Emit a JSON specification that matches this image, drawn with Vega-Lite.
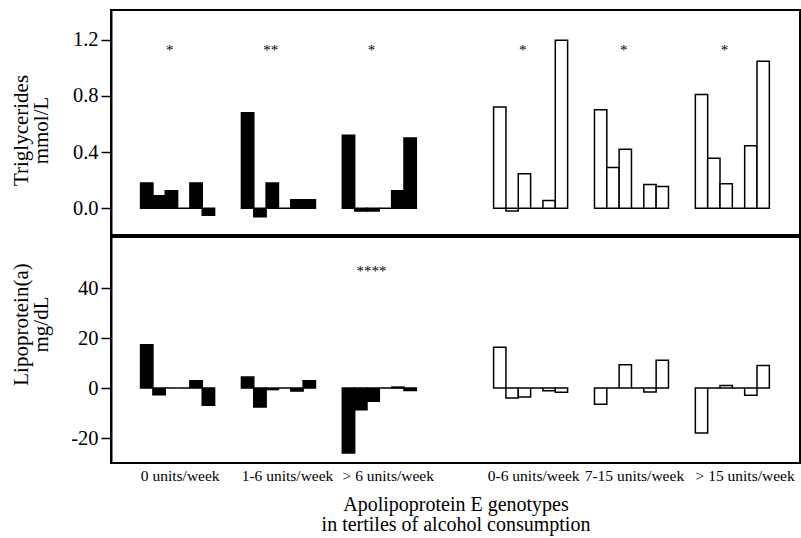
{
  "$schema": "https://vega.github.io/schema/vega-lite/v6.json",
  "background": "white",
  "padding": {"left": 8, "top": 9, "right": 1, "bottom": 1},
  "spacing": 0,
  "config": {
    "font": "Liberation Serif, Times New Roman, serif",
    "view": {"stroke": "black", "strokeWidth": 2},
    "axis": {
      "grid": false,
      "domainColor": "black",
      "domainWidth": 2,
      "tickColor": "black",
      "tickWidth": 1.5,
      "tickSize": 10,
      "labelFont": "Liberation Serif, Times New Roman, serif",
      "labelColor": "black",
      "titleFont": "Liberation Serif, Times New Roman, serif",
      "titleColor": "black",
      "titleFontWeight": "normal"
    },
    "text": {"font": "Liberation Serif, Times New Roman, serif"}
  },
  "datasets": {
    "trig": [
      {"alcohol": "0 units/week", "sex": "women", "genotype": "E2/2", "value": 0.18},
      {"alcohol": "0 units/week", "sex": "women", "genotype": "E2/3", "value": 0.09},
      {"alcohol": "0 units/week", "sex": "women", "genotype": "E2/4", "value": 0.125},
      {"alcohol": "0 units/week", "sex": "women", "genotype": "E3/3", "value": 0},
      {"alcohol": "0 units/week", "sex": "women", "genotype": "E3/4", "value": 0.18},
      {"alcohol": "0 units/week", "sex": "women", "genotype": "E4/4", "value": -0.05},
      {"alcohol": "1-6 units/week", "sex": "women", "genotype": "E2/2", "value": 0.68},
      {"alcohol": "1-6 units/week", "sex": "women", "genotype": "E2/3", "value": -0.06},
      {"alcohol": "1-6 units/week", "sex": "women", "genotype": "E2/4", "value": 0.18},
      {"alcohol": "1-6 units/week", "sex": "women", "genotype": "E3/3", "value": 0},
      {"alcohol": "1-6 units/week", "sex": "women", "genotype": "E3/4", "value": 0.06},
      {"alcohol": "1-6 units/week", "sex": "women", "genotype": "E4/4", "value": 0.06},
      {"alcohol": "> 6 units/week", "sex": "women", "genotype": "E2/2", "value": 0.52},
      {"alcohol": "> 6 units/week", "sex": "women", "genotype": "E2/3", "value": -0.02},
      {"alcohol": "> 6 units/week", "sex": "women", "genotype": "E2/4", "value": -0.02},
      {"alcohol": "> 6 units/week", "sex": "women", "genotype": "E3/3", "value": 0},
      {"alcohol": "> 6 units/week", "sex": "women", "genotype": "E3/4", "value": 0.125},
      {"alcohol": "> 6 units/week", "sex": "women", "genotype": "E4/4", "value": 0.5},
      {"alcohol": "0-6 units/week", "sex": "men", "genotype": "E2/2", "value": 0.72},
      {"alcohol": "0-6 units/week", "sex": "men", "genotype": "E2/3", "value": -0.02},
      {"alcohol": "0-6 units/week", "sex": "men", "genotype": "E2/4", "value": 0.245},
      {"alcohol": "0-6 units/week", "sex": "men", "genotype": "E3/3", "value": 0},
      {"alcohol": "0-6 units/week", "sex": "men", "genotype": "E3/4", "value": 0.055},
      {"alcohol": "0-6 units/week", "sex": "men", "genotype": "E4/4", "value": 1.195},
      {"alcohol": "7-15 units/week", "sex": "men", "genotype": "E2/2", "value": 0.7},
      {"alcohol": "7-15 units/week", "sex": "men", "genotype": "E2/3", "value": 0.29},
      {"alcohol": "7-15 units/week", "sex": "men", "genotype": "E2/4", "value": 0.42},
      {"alcohol": "7-15 units/week", "sex": "men", "genotype": "E3/3", "value": 0},
      {"alcohol": "7-15 units/week", "sex": "men", "genotype": "E3/4", "value": 0.17},
      {"alcohol": "7-15 units/week", "sex": "men", "genotype": "E4/4", "value": 0.155},
      {"alcohol": "> 15 units/week", "sex": "men", "genotype": "E2/2", "value": 0.81},
      {"alcohol": "> 15 units/week", "sex": "men", "genotype": "E2/3", "value": 0.355},
      {"alcohol": "> 15 units/week", "sex": "men", "genotype": "E2/4", "value": 0.175},
      {"alcohol": "> 15 units/week", "sex": "men", "genotype": "E3/3", "value": 0},
      {"alcohol": "> 15 units/week", "sex": "men", "genotype": "E3/4", "value": 0.445},
      {"alcohol": "> 15 units/week", "sex": "men", "genotype": "E4/4", "value": 1.045}
    ],
    "lpa": [
      {"alcohol": "0 units/week", "sex": "women", "genotype": "E2/2", "value": 17.4},
      {"alcohol": "0 units/week", "sex": "women", "genotype": "E2/3", "value": -2.7},
      {"alcohol": "0 units/week", "sex": "women", "genotype": "E2/4", "value": 0},
      {"alcohol": "0 units/week", "sex": "women", "genotype": "E3/3", "value": 0},
      {"alcohol": "0 units/week", "sex": "women", "genotype": "E3/4", "value": 2.9},
      {"alcohol": "0 units/week", "sex": "women", "genotype": "E4/4", "value": -6.9},
      {"alcohol": "1-6 units/week", "sex": "women", "genotype": "E2/2", "value": 4.4},
      {"alcohol": "1-6 units/week", "sex": "women", "genotype": "E2/3", "value": -7.6},
      {"alcohol": "1-6 units/week", "sex": "women", "genotype": "E2/4", "value": -0.6},
      {"alcohol": "1-6 units/week", "sex": "women", "genotype": "E3/3", "value": 0},
      {"alcohol": "1-6 units/week", "sex": "women", "genotype": "E3/4", "value": -1.2},
      {"alcohol": "1-6 units/week", "sex": "women", "genotype": "E4/4", "value": 2.9},
      {"alcohol": "> 6 units/week", "sex": "women", "genotype": "E2/2", "value": -26},
      {"alcohol": "> 6 units/week", "sex": "women", "genotype": "E2/3", "value": -8.7},
      {"alcohol": "> 6 units/week", "sex": "women", "genotype": "E2/4", "value": -5.3},
      {"alcohol": "> 6 units/week", "sex": "women", "genotype": "E3/3", "value": 0},
      {"alcohol": "> 6 units/week", "sex": "women", "genotype": "E3/4", "value": 0.4},
      {"alcohol": "> 6 units/week", "sex": "women", "genotype": "E4/4", "value": -1.0},
      {"alcohol": "0-6 units/week", "sex": "men", "genotype": "E2/2", "value": 16.4},
      {"alcohol": "0-6 units/week", "sex": "men", "genotype": "E2/3", "value": -4.0},
      {"alcohol": "0-6 units/week", "sex": "men", "genotype": "E2/4", "value": -3.6},
      {"alcohol": "0-6 units/week", "sex": "men", "genotype": "E3/3", "value": 0},
      {"alcohol": "0-6 units/week", "sex": "men", "genotype": "E3/4", "value": -1.1},
      {"alcohol": "0-6 units/week", "sex": "men", "genotype": "E4/4", "value": -1.7},
      {"alcohol": "7-15 units/week", "sex": "men", "genotype": "E2/2", "value": -6.5},
      {"alcohol": "7-15 units/week", "sex": "men", "genotype": "E2/3", "value": 0},
      {"alcohol": "7-15 units/week", "sex": "men", "genotype": "E2/4", "value": 9.3},
      {"alcohol": "7-15 units/week", "sex": "men", "genotype": "E3/3", "value": 0},
      {"alcohol": "7-15 units/week", "sex": "men", "genotype": "E3/4", "value": -1.6},
      {"alcohol": "7-15 units/week", "sex": "men", "genotype": "E4/4", "value": 11.1},
      {"alcohol": "> 15 units/week", "sex": "men", "genotype": "E2/2", "value": -18},
      {"alcohol": "> 15 units/week", "sex": "men", "genotype": "E2/3", "value": 0},
      {"alcohol": "> 15 units/week", "sex": "men", "genotype": "E2/4", "value": 1.0},
      {"alcohol": "> 15 units/week", "sex": "men", "genotype": "E3/3", "value": 0},
      {"alcohol": "> 15 units/week", "sex": "men", "genotype": "E3/4", "value": -2.9},
      {"alcohol": "> 15 units/week", "sex": "men", "genotype": "E4/4", "value": 9.0}
    ],
    "trig_sig": [
      {"alcohol": "0 units/week", "label": "*", "value": 1.09},
      {"alcohol": "1-6 units/week", "label": "**", "value": 1.09},
      {"alcohol": "> 6 units/week", "label": "*", "value": 1.09},
      {"alcohol": "0-6 units/week", "label": "*", "value": 1.09},
      {"alcohol": "7-15 units/week", "label": "*", "value": 1.09},
      {"alcohol": "> 15 units/week", "label": "*", "value": 1.09}
    ],
    "lpa_sig": [
      {"alcohol": "> 6 units/week", "label": "****", "value": 45}
    ]
  },
  "vconcat": [
    {
      "width": 689,
      "height": 225,
      "layer": [
        {
          "data": {"name": "trig"},
          "mark": {"type": "bar", "stroke": "black", "strokeWidth": 1.5},
          "encoding": {
            "x": {
              "field": "alcohol", "type": "nominal", "axis": null,
              "scale": {"domain": ["0 units/week", " ", "1-6 units/week", "  ", "> 6 units/week", "   ", "    ", "0-6 units/week", "     ", "7-15 units/week", "      ", "> 15 units/week"], "paddingInner": 0, "paddingOuter": 0.831, "align": 0.353}
            },
            "xOffset": {
              "field": "genotype", "type": "nominal",
              "scale": {"domain": ["E2/2", "E2/3", "E2/4", "E3/3", "E3/4", "E4/4"], "range": [0, 74], "paddingInner": 0, "paddingOuter": 0}
            },
            "y": {
              "field": "value", "type": "quantitative",
              "scale": {"domain": [-0.19, 1.41], "nice": false},
              "axis": {
                "title": ["Triglycerides", "mmol/L"],
                "values": [0, 0.2, 0.4, 0.6, 0.8, 1.0, 1.2],
                "format": ".1f",
                "labelExpr": "round(datum.value * 10) % 4 == 0 ? datum.label : ''",
                "labelFontSize": 20.5,
                "labelPadding": 3,
                "titleFontSize": 21,
                "titleLineHeight": 20,
                "titleX": -80,
                "titleY": 120
              }
            },
            "fill": {
              "field": "sex", "type": "nominal",
              "scale": {"domain": ["women", "men"], "range": ["#000000", "#ffffff"]},
              "legend": null
            }
          }
        },
        {
          "data": {"name": "trig_sig"},
          "mark": {"type": "text", "fontSize": 15, "dx": 4, "baseline": "alphabetic", "color": "black"},
          "encoding": {
            "x": {"field": "alcohol", "type": "nominal"},
            "y": {"field": "value", "type": "quantitative"},
            "text": {"field": "label"}
          }
        }
      ]
    },
    {
      "width": 689,
      "height": 226,
      "layer": [
        {
          "data": {"name": "lpa"},
          "mark": {"type": "bar", "stroke": "black", "strokeWidth": 1.5},
          "encoding": {
            "x": {
              "field": "alcohol", "type": "nominal",
              "scale": {"domain": ["0 units/week", " ", "1-6 units/week", "  ", "> 6 units/week", "   ", "    ", "0-6 units/week", "     ", "7-15 units/week", "      ", "> 15 units/week"], "paddingInner": 0, "paddingOuter": 0.831, "align": 0.353},
              "axis": {
                "title": ["Apolipoprotein E genotypes", "in tertiles of alcohol consumption"],
                "labelAlign": "left",
                "labelOffset": {
                  "condition": [
                    {"test": "datum.value == '0-6 units/week'", "value": -31},
                    {"test": "datum.value == '7-15 units/week'", "value": -35}
                  ],
                  "value": -25
                },
                "labelAngle": 0,
                "labelOverlap": false,
                "ticks": false,
                "domain": false,
                "labelFontSize": 15.5,
                "labelPadding": 5,
                "titleFontSize": 20,
                "titleLineHeight": 20,
                "titlePadding": 11
              }
            },
            "xOffset": {
              "field": "genotype", "type": "nominal",
              "scale": {"domain": ["E2/2", "E2/3", "E2/4", "E3/3", "E3/4", "E4/4"], "range": [0, 74], "paddingInner": 0, "paddingOuter": 0}
            },
            "y": {
              "field": "value", "type": "quantitative",
              "scale": {"domain": [-30, 60.5], "nice": false},
              "axis": {
                "title": ["Lipoprotein(a)", "mg/dL"],
                "values": [-20, -10, 0, 10, 20, 30, 40, 50],
                "labelExpr": "datum.value % 20 == 0 ? '' + datum.value : ''",
                "labelFontSize": 20.5,
                "labelPadding": 3,
                "titleFontSize": 21,
                "titleLineHeight": 20,
                "titleX": -80,
                "titleY": 87
              }
            },
            "fill": {
              "field": "sex", "type": "nominal",
              "scale": {"domain": ["women", "men"], "range": ["#000000", "#ffffff"]},
              "legend": null
            }
          }
        },
        {
          "data": {"name": "lpa_sig"},
          "mark": {"type": "text", "fontSize": 15, "dx": 4, "baseline": "alphabetic", "color": "black"},
          "encoding": {
            "x": {"field": "alcohol", "type": "nominal"},
            "y": {"field": "value", "type": "quantitative"},
            "text": {"field": "label"}
          }
        }
      ]
    }
  ],
  "resolve": {"scale": {"x": "independent", "y": "independent", "xOffset": "independent"}}
}
